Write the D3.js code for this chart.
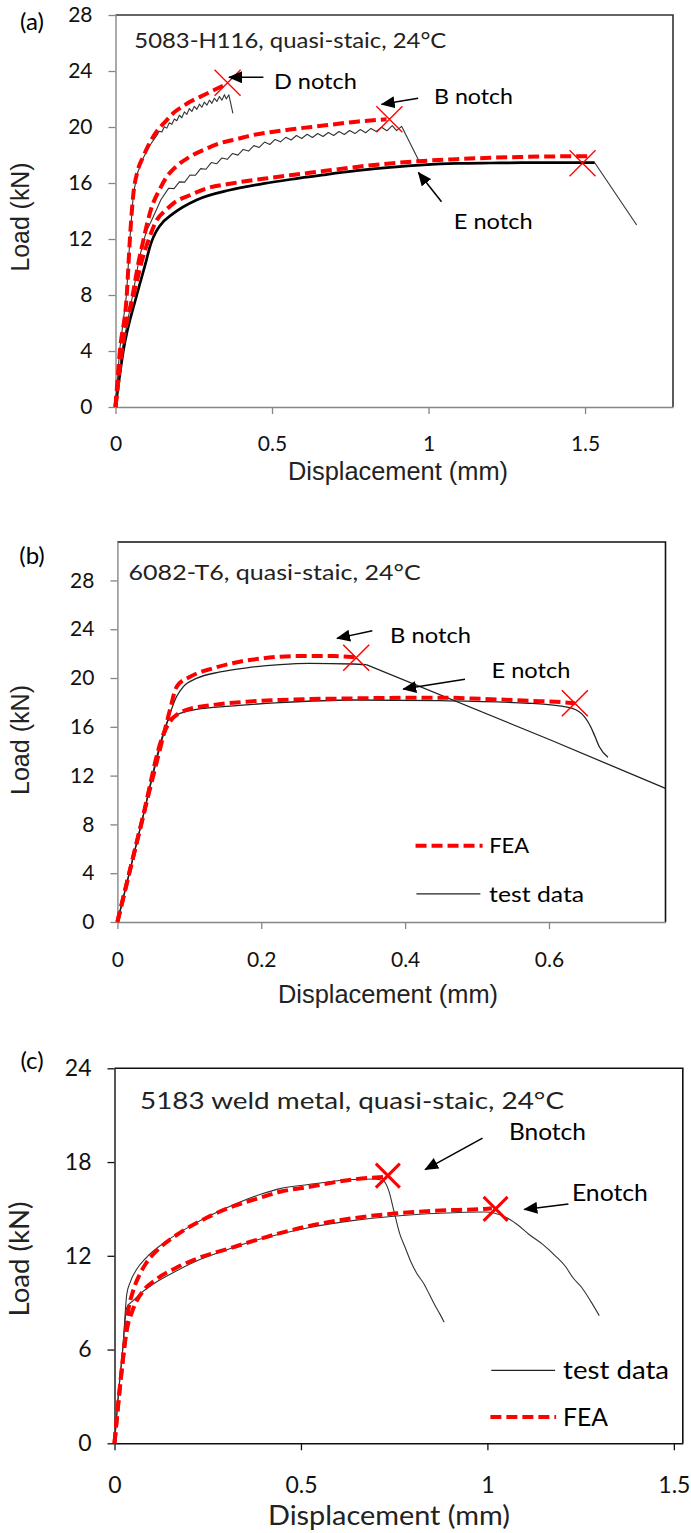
<!DOCTYPE html>
<html>
<head>
<meta charset="utf-8">
<script src="https://cdn.jsdelivr.net/npm/d3@7"></script>
<style>
  html, body { margin: 0; padding: 0; background: #fff; }
  svg { display: block; }
</style>
</head>
<body>
<svg id="chart" width="691" height="1533"></svg>
<script>
// ---------- (a) 5083-H116 ----------
const aXTicks = [0, 0.5, 1, 1.5];
const aXTickLabels = ["0", "0.5", "1", "1.5"];
const aYTicks = [0, 4, 8, 12, 16, 20, 24, 28];
const aYTickLabels = ["0", "4", "8", "12", "16", "20", "24", "28"];

const aDnotchFEA = [[0,0],[0.014,4],[0.036,8],[0.046,12],[0.057,15.2],[0.07,16.8],[0.089,17.9],[0.11,18.9],[0.132,19.7],[0.16,20.4],[0.185,21.0],[0.21,21.4],[0.238,21.8],[0.27,22.15],[0.302,22.5],[0.33,22.8],[0.352,23.05]];
const aDnotchTest = [[0,0],[0.013,4],[0.035,8],[0.046,12],[0.057,15.2],[0.07,16.7],[0.089,17.8],[0.11,18.7],[0.132,19.4],
  [0.140,19.70],[0.148,19.64],[0.156,20.02],[0.164,19.92],[0.172,20.30],[0.180,20.19],[0.188,20.57],[0.196,20.45],
  [0.204,20.84],[0.212,20.66],[0.220,21.08],[0.228,20.90],[0.236,21.32],[0.244,21.11],[0.252,21.48],[0.260,21.26],
  [0.268,21.63],[0.276,21.41],[0.284,21.78],[0.292,21.56],[0.300,21.92],[0.308,21.69],[0.316,22.05],[0.324,21.82],
  [0.332,22.18],[0.340,21.92],[0.348,22.31],[0.354,22.0],[0.362,22.3],[0.368,21.7],[0.375,20.98]];
const aBnotchFEA = [[0,0],[0.02,4],[0.055,8],[0.075,10.5],[0.089,11.9],[0.1,13.0],[0.116,14.3],[0.14,15.5],[0.164,16.45],[0.2,17.3],[0.238,17.88],[0.29,18.45],[0.334,18.84],[0.39,19.15],[0.44,19.43],[0.5,19.65],[0.557,19.82],[0.664,20.1],[0.77,20.38],[0.866,20.55]];
const aBnotchTest = [[0,0],[0.02,4],[0.055,8],[0.075,10.5],[0.09,11.9],[0.1,12.6],[0.121,13.6],[0.145,14.8],
  [0.170,15.63],[0.187,15.60],[0.204,16.08],[0.221,16.06],[0.238,16.57],[0.255,16.55],[0.272,17.03],[0.289,16.98],
  [0.306,17.46],[0.323,17.37],[0.340,17.79],[0.357,17.69],[0.374,18.11],[0.391,17.99],[0.408,18.40],[0.425,18.28],
  [0.442,18.67],[0.459,18.54],[0.476,18.92],[0.493,18.75],[0.510,19.11],[0.527,18.94],[0.544,19.26],[0.561,19.07],
  [0.578,19.39],[0.595,19.18],[0.612,19.48],[0.629,19.25],[0.646,19.54],[0.663,19.32],[0.680,19.61],[0.697,19.39],
  [0.714,19.68],[0.731,19.46],[0.748,19.75],[0.765,19.53],[0.782,19.82],[0.799,19.59],[0.816,19.90],[0.833,19.68],
  [0.850,19.98],[0.867,19.73],[0.884,20.10],[0.898,19.74],[0.914,20.05],[0.97,17.55]];
const aEnotchFEA = [[0,0],[0.02,4],[0.058,8],[0.085,10.5],[0.105,11.9],[0.132,13.36],[0.16,14.05],[0.185,14.55],[0.24,15.15],[0.291,15.62],[0.366,15.95],[0.472,16.3],[0.557,16.55],[0.664,16.85],[0.77,17.15],[0.877,17.4],[0.983,17.58],[1.09,17.7],[1.196,17.8],[1.292,17.86],[1.4,17.9],[1.516,17.92]];
const aEnotchTest = [[0,0],[0.025,4],[0.068,8],[0.1,10.6],[0.108,11.3],[0.116,11.85],[0.128,12.45],[0.142,12.95],[0.185,13.83],[0.259,14.79],[0.366,15.5],[0.472,15.95],[0.557,16.25],[0.664,16.58],[0.77,16.88],[0.877,17.12],[0.983,17.3],[1.09,17.4],[1.2,17.43],[1.3,17.45],[1.42,17.45],[1.531,17.45],[1.665,13.0]];
const aFailure = [[0.358,23.16],[0.875,20.55],[1.492,17.41]];

// ---------- (b) 6082-T6 ----------
const bXTicks = [0, 0.2, 0.4, 0.6];
const bXTickLabels = ["0", "0.2", "0.4", "0.6"];
const bYTicks = [0, 4, 8, 12, 16, 20, 24, 28];
const bYTickLabels = ["0", "4", "8", "12", "16", "20", "24", "28"];

const bBnotchFEA = [[0,0],[0.033,8],[0.066,15.76],[0.073,17.38],[0.0825,19.3],[0.101,20.1],[0.133,20.8],[0.17,21.34],[0.2,21.6],[0.25,21.8],[0.3,21.8],[0.332,21.7]];
const bBnotchTest = [[0,0],[0.033,8],[0.066,15.76],[0.0825,18.5],[0.0917,19.3],[0.11,19.97],[0.143,20.5],[0.18,20.84],[0.226,21.1],[0.266,21.2],[0.327,21.15],[0.346,21.1],[0.603,14.9],[0.762,10.95]];
const bEnotchFEA = [[0,0],[0.033,8],[0.064,15.4],[0.073,16.42],[0.096,17.38],[0.133,17.79],[0.18,18.06],[0.226,18.2],[0.327,18.33],[0.449,18.39],[0.511,18.28],[0.572,18.14],[0.627,17.98],[0.636,17.93]];
const bEnotchTest = [[0,0],[0.033,8],[0.064,15.5],[0.0708,16.56],[0.087,17.1],[0.11,17.43],[0.157,17.7],[0.226,17.98],[0.327,18.2],[0.449,18.14],[0.572,17.93],[0.627,17.6],[0.645,17.1],[0.658,16.0],[0.664,15.2],[0.67,14.37],[0.682,13.5]];
const bFailure = [[0.332,21.66],[0.636,17.93]];

// ---------- (c) 5183 weld metal ----------
const cXTicks = [0, 0.5, 1, 1.5];
const cXTickLabels = ["0", "0.5", "1", "1.5"];
const cYTicks = [0, 6, 12, 18, 24];
const cYTickLabels = ["0", "6", "12", "18", "24"];

const cBnotchTest = [[0,0],[0.01,3],[0.022,6],[0.033,9.55],[0.042,10.3],[0.06,11.15],[0.086,11.9],[0.14,12.95],[0.211,14.0],[0.301,15.07],[0.39,15.92],[0.444,16.3],[0.52,16.56],[0.638,16.88],[0.697,16.92],[0.721,16.8],[0.735,16.2],[0.75,14.8],[0.765,13.4],[0.78,12.5],[0.795,11.6],[0.81,10.9],[0.83,10.2],[0.845,9.5],[0.86,8.8],[0.872,8.3],[0.884,7.75]];
const cBnotchFEA = [[0,0],[0.012,3],[0.0255,6],[0.037,8.5],[0.05,9.76],[0.068,10.83],[0.086,11.57],[0.122,12.52],[0.176,13.48],[0.247,14.43],[0.319,15.18],[0.39,15.71],[0.444,16.1],[0.52,16.4],[0.638,16.88],[0.725,17.05]];
const cEnotchTest = [[0,0],[0.01,3],[0.022,6],[0.033,8.7],[0.05,9.13],[0.068,9.55],[0.104,10.19],[0.158,10.93],[0.22,11.67],[0.292,12.31],[0.372,12.95],[0.444,13.4],[0.52,13.8],[0.638,14.25],[0.756,14.55],[0.874,14.72],[0.993,14.8],[1.02,14.72],[1.052,14.43],[1.08,14.0],[1.111,13.38],[1.15,12.7],[1.182,12.0],[1.21,11.3],[1.229,10.61],[1.253,9.97],[1.276,9.13],[1.3,8.17]];
const cEnotchFEA = [[0,0],[0.012,3],[0.0255,6],[0.037,7.7],[0.042,8.06],[0.055,8.9],[0.077,9.76],[0.113,10.51],[0.167,11.25],[0.229,11.89],[0.301,12.42],[0.372,12.95],[0.444,13.45],[0.52,13.9],[0.638,14.4],[0.756,14.72],[0.874,14.9],[0.993,15.0],[1.012,15.05]];
const cFailure = [[0.733,17.13],[1.022,15.0]];

// ---------- drawing ----------
const svg = d3.select("#chart");
const FONT = "Lato, 'Open Sans', sans-serif";
const ARIAL = "'Liberation Sans', Arial, sans-serif";
const RED = "#ff0000";

const defs = svg.append("defs");
defs.append("marker")
  .attr("id", "head")
  .attr("viewBox", "0 0 14 12")
  .attr("refX", 13).attr("refY", 6)
  .attr("markerWidth", 14).attr("markerHeight", 12)
  .attr("markerUnits", "userSpaceOnUse")
  .attr("orient", "auto")
  .append("path").attr("d", "M0,0 L14,6 L0,12 Z").attr("fill", "#000");

// stretch a text to a set width when one is given
function fit(sel, width) {
  if (width) sel.attr("textLength", width).attr("lengthAdjust", "spacingAndGlyphs");
  return sel;
}

function drawPanel(p) {
  const x = d3.scaleLinear().domain(p.xDomain).range([p.box.left, p.box.right]);
  const y = d3.scaleLinear().domain(p.yDomain).range([p.box.bottom, p.box.top]);
  const g = svg.append("g");

  // top and right frame of the plot area
  g.append("path")
    .attr("d", `M${p.box.left},${p.box.top}H${p.box.right}V${p.box.bottom}`)
    .attr("fill", "none").attr("stroke", p.frameColor).attr("stroke-width", p.frameWidth);

  // axes
  const xa = g.append("g").attr("transform", `translate(0,${p.box.bottom})`)
    .call(d3.axisBottom(x).tickValues(p.xTicks).tickFormat((d, i) => p.xLabels[i])
      .tickSize(7).tickSizeOuter(0).tickPadding(p.xPad));
  const ya = g.append("g").attr("transform", `translate(${p.box.left},0)`)
    .call(d3.axisLeft(y).tickValues(p.yTicks).tickFormat((d, i) => p.yLabels[i])
      .tickSize(7).tickSizeOuter(0).tickPadding(p.yPad));
  [xa, ya].forEach(a => {
    a.attr("font-family", FONT).attr("font-size", p.tickFont);
    a.select(".domain").attr("stroke", p.axisColor).attr("stroke-width", 1.4);
    a.selectAll(".tick line").attr("stroke", p.axisColor).attr("stroke-width", 1.3);
    a.selectAll(".tick text").attr("fill", "#111");
  });

  // axis titles
  fit(g.append("text").text("Displacement (mm)")
    .attr("x", p.xTitle[0]).attr("y", p.xTitle[1]).attr("dy", "0.35em")
    .attr("text-anchor", "middle").attr("font-family", p.titleFamily)
    .attr("font-size", p.axisTitleFont).attr("fill", "#222"), p.xTitleWidth);
  fit(g.append("text").text("Load (kN)")
    .attr("transform", `translate(${p.yTitle[0]},${p.yTitle[1]}) rotate(-90)`)
    .attr("dy", "0.35em").attr("text-anchor", "middle").attr("font-family", p.titleFamily)
    .attr("font-size", p.axisTitleFont).attr("fill", "#222"), p.yTitleWidth);

  // panel letter
  g.append("text").text(p.letter)
    .attr("x", p.letterPos[0]).attr("y", p.letterPos[1]).attr("dy", "0.35em")
    .attr("text-anchor", "middle").attr("font-family", FONT).attr("font-size", 24).attr("fill", "#000");

  // condition text
  fit(g.append("text").text(p.caption)
    .attr("x", x(p.captionAt[0])).attr("y", y(p.captionAt[1]))
    .attr("font-family", FONT).attr("font-size", p.captionFont).attr("fill", "#222"), p.captionWidth);

  // curves; a test record may switch to a thin straight tail after failure
  p.series.forEach(s => {
    const smoothLine = d3.line().x(d => x(d[0])).y(d => y(d[1]))
      .curve(s.smooth ? d3.curveMonotoneX : d3.curveLinear);
    const straight = d3.line().x(d => x(d[0])).y(d => y(d[1]));
    const head = s.tailFrom != null ? s.data.slice(0, s.tailFrom + 1) : s.data;
    const path = g.append("path").datum(head).attr("d", smoothLine)
      .attr("fill", "none").attr("stroke-linejoin", "round").attr("stroke-linecap", "butt");
    if (s.kind === "fea") {
      path.attr("stroke", RED).attr("stroke-width", p.feaWidth).attr("stroke-dasharray", "11,5");
    } else {
      path.attr("stroke", s.color || "#222").attr("stroke-width", s.width || 1.1);
    }
    if (s.tailFrom != null) {
      g.append("path").datum(s.data.slice(s.tailFrom)).attr("d", straight)
        .attr("fill", "none").attr("stroke", s.tailColor || s.color || "#222")
        .attr("stroke-width", s.tailWidth || s.width || 1.1).attr("stroke-linejoin", "round");
    }
  });

  // failure crosses
  const h = p.crossSize;
  g.selectAll(null).data(p.failures).join("path")
    .attr("d", d => {
      const cx = x(d[0]), cy = y(d[1]);
      return `M${cx - h},${cy - h}L${cx + h},${cy + h}M${cx - h},${cy + h}L${cx + h},${cy - h}`;
    })
    .attr("fill", "none").attr("stroke", RED).attr("stroke-width", p.crossWidth);

  // notch labels with arrows
  p.notes.forEach(n => {
    g.append("line")
      .attr("x1", x(n.from[0])).attr("y1", y(n.from[1]))
      .attr("x2", x(n.to[0])).attr("y2", y(n.to[1]))
      .attr("stroke", "#000").attr("stroke-width", 1.5).attr("marker-end", "url(#head)");
    fit(g.append("text").text(n.text)
      .attr("x", x(n.at[0])).attr("y", y(n.at[1])).attr("dy", "0.35em")
      .attr("font-family", FONT).attr("font-size", p.noteFont).attr("fill", "#000"), n.w);
  });

  // legend
  (p.legend || []).forEach(l => {
    const ln = g.append("line")
      .attr("x1", x(l.x0)).attr("x2", x(l.x1)).attr("y1", y(l.y)).attr("y2", y(l.y));
    if (l.kind === "fea") ln.attr("stroke", RED).attr("stroke-width", p.feaWidth).attr("stroke-dasharray", "11,5");
    else ln.attr("stroke", "#222").attr("stroke-width", 1.3);
    fit(g.append("text").text(l.text)
      .attr("x", x(l.tx)).attr("y", y(l.y)).attr("dy", "0.35em")
      .attr("font-family", FONT).attr("font-size", p.legendFont).attr("fill", "#000"), l.w);
  });
}

drawPanel({
  letter: "(a)", letterPos: [32, 22],
  box: { left: 115.5, right: 673, top: 15, bottom: 407 },
  xDomain: [0, 1.781], yDomain: [0, 28],
  xTicks: aXTicks, xLabels: aXTickLabels, yTicks: aYTicks, yLabels: aYTickLabels,
  xPad: 22, yPad: 16, tickFont: 21,
  axisColor: "#868686", frameColor: "#333", frameWidth: 1.6,
  titleFamily: ARIAL, axisTitleFont: 25, xTitle: [398, 471], yTitle: [20, 217],
  xTitleWidth: 220, yTitleWidth: 109,
  caption: "5083-H116, quasi-staic, 24°C", captionAt: [0.06, 25.61], captionFont: 21, captionWidth: 312,
  feaWidth: 4, crossSize: 13, crossWidth: 1.3, noteFont: 22,
  series: [
    { data: aEnotchTest, kind: "test", color: "#000", width: 2.7, smooth: true, tailFrom: 21, tailColor: "#333", tailWidth: 1.1 },
    { data: aDnotchTest, kind: "test", color: "#333", width: 1.1, smooth: false },
    { data: aBnotchTest, kind: "test", color: "#333", width: 1.1, smooth: false },
    { data: aDnotchFEA, kind: "fea", smooth: true },
    { data: aBnotchFEA, kind: "fea", smooth: true },
    { data: aEnotchFEA, kind: "fea", smooth: true }
  ],
  failures: aFailure,
  notes: [
    { text: "D notch", at: [0.506, 23.24], from: [0.4725, 23.55], to: [0.3626, 23.55], w: 83 },
    { text: "B notch", at: [1.0176, 22.16], from: [0.967, 22.05], to: [0.8505, 21.62], w: 79 },
    { text: "E notch", at: [1.0805, 13.29], from: [1.0415, 14.66], to: [0.9677, 16.75], w: 79 }
  ]
});

drawPanel({
  letter: "(b)", letterPos: [32, 556],
  box: { left: 117.4, right: 665.5, top: 542, bottom: 922 },
  xDomain: [0, 0.762], yDomain: [0, 31.15],
  xTicks: bXTicks, xLabels: bXTickLabels, yTicks: bYTicks, yLabels: bYTickLabels,
  xPad: 23, yPad: 16, tickFont: 21,
  axisColor: "#868686", frameColor: "#111", frameWidth: 1.6,
  titleFamily: ARIAL, axisTitleFont: 25, xTitle: [388, 994], yTitle: [20, 740],
  xTitleWidth: 220, yTitleWidth: 110,
  caption: "6082-T6, quasi-staic, 24°C", captionAt: [0.0156, 28.03], captionFont: 21, captionWidth: 292,
  feaWidth: 4, crossSize: 13, crossWidth: 1.5, noteFont: 22,
  series: [
    { data: bBnotchTest, kind: "test", color: "#222", width: 1.3, smooth: true, tailFrom: 11 },
    { data: bEnotchTest, kind: "test", color: "#222", width: 1.3, smooth: true },
    { data: bBnotchFEA, kind: "fea", smooth: true },
    { data: bEnotchFEA, kind: "fea", smooth: true }
  ],
  failures: bFailure,
  notes: [
    { text: "B notch", at: [0.379, 23.52], from: [0.3544, 23.88], to: [0.3054, 23.25], w: 81 },
    { text: "E notch", at: [0.52, 20.66], from: [0.4832, 19.89], to: [0.3974, 19.1], w: 79 }
  ],
  legendFont: 22,
  legend: [
    { kind: "fea", text: "FEA", x0: 0.4145, x1: 0.5077, y: 6.25, tx: 0.5168, w: 40 },
    { kind: "test", text: "test data", x0: 0.4157, x1: 0.5046, y: 2.3, tx: 0.5168, w: 95 }
  ]
});

drawPanel({
  letter: "(c)", letterPos: [32, 1061],
  box: { left: 114.5, right: 682.8, top: 1068.3, bottom: 1443.3 },
  xDomain: [0, 1.524], yDomain: [0, 24],
  xTicks: cXTicks, xLabels: cXTickLabels, yTicks: cYTicks, yLabels: cYTickLabels,
  xPad: 26, yPad: 16, tickFont: 23,
  axisColor: "#111", frameColor: "#111", frameWidth: 1.6,
  titleFamily: FONT, axisTitleFont: 26, xTitle: [389, 1516], yTitle: [20, 1259],
  xTitleWidth: 242, yTitleWidth: 115,
  caption: "5183 weld metal, quasi-staic, 24°C", captionAt: [0.0684, 21.42], captionFont: 23, captionWidth: 424,
  feaWidth: 4, crossSize: 12, crossWidth: 3, noteFont: 24,
  series: [
    { data: cBnotchTest, kind: "test", color: "#333", width: 1.1, smooth: true },
    { data: cEnotchTest, kind: "test", color: "#333", width: 1.1, smooth: true },
    { data: cBnotchFEA, kind: "fea", smooth: true },
    { data: cEnotchFEA, kind: "fea", smooth: true }
  ],
  failures: cFailure,
  notes: [
    { text: "Bnotch", at: [1.0577, 19.96], from: [0.9869, 19.53], to: [0.8332, 17.52], w: 77 },
    { text: "Enotch", at: [1.2267, 16.03], from: [1.2173, 15.32], to: [1.099, 14.97], w: 76 }
  ],
  legendFont: 25,
  legend: [
    { kind: "test", text: "test data", x0: 1.0105, x1: 1.1816, y: 4.67, tx: 1.203, w: 106 },
    { kind: "fea", text: "FEA", x0: 1.008, x1: 1.1843, y: 1.69, tx: 1.203, w: 45 }
  ]
});
</script>
</body>
</html>
